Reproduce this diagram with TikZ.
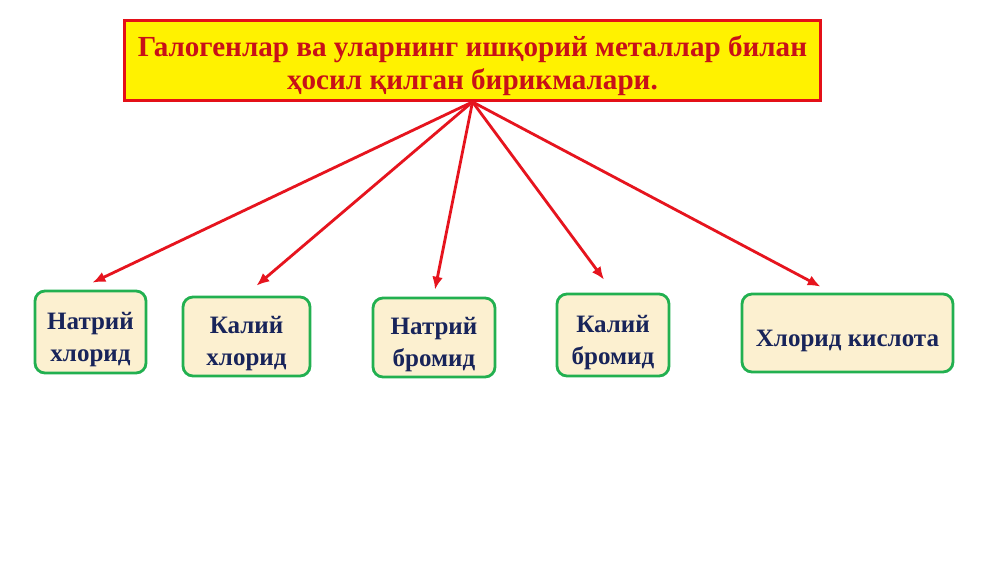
\documentclass[tikz,border=0pt]{standalone}
\usepackage{fontspec}
\setmainfont{Liberation Serif}
\usetikzlibrary{positioning,arrows.meta}
\definecolor{framered}{RGB}{228,16,24}
\definecolor{titletext}{RGB}{200,16,24}
\definecolor{arrowred}{RGB}{230,20,30}
\definecolor{boxgreen}{RGB}{34,176,80}
\definecolor{boxcream}{RGB}{252,240,208}
\definecolor{navytext}{RGB}{24,36,90}
\newcommand{\boxstrut}{\rule{0pt}{22.5pt}}

\begin{document}
\begin{tikzpicture}[x=0.025cm,y=-0.025cm,
  titlebox/.style={draw=framered, fill=yellow, line width=2pt, text=titletext,
    font=\bfseries\fontsize{20.7}{23.5}\selectfont, align=center,
    minimum width=17.4cm, minimum height=2cm, inner sep=0pt},
  saltbox/.style={draw=boxgreen, fill=boxcream, line width=2pt, rounded corners=0.25cm,
    text=navytext, font=\bfseries\fontsize{17.8}{22.8}\selectfont, align=center, inner sep=0pt},
  link/.style={draw=arrowred, line width=2pt, -{Latex[length=3.2mm,width=2.7mm]}}]

\useasboundingbox[fill=white] (0,0) rectangle (1000,562);

\node[titlebox] (title) at (472.5,60.5) {\rule{0pt}{22pt}Галогенлар ва уларнинг ишқорий металлар билан\\ ҳосил қилган бирикмалари.};
\coordinate (hub) at (title.south);

% salt boxes: name/x/y/width/height/text
\foreach \name/\x/\y/\w/\h/\txt in {
    nacl/90.5/332/111/82/{\boxstrut Натрий\\ хлорид},
    kcl/246.5/336.5/127/79/{\boxstrut Калий\\ хлорид},
    nabr/434/337.5/122/79/{\boxstrut Натрий\\ бромид},
    kbr/613/335/112/82/{\boxstrut Калий\\ бромид},
    hcl/847.5/333/211/78/{\boxstrut Хлорид кислота}} {
    \node[saltbox, minimum width=\w*0.025cm, minimum height=\h*0.025cm] (\name) at (\x,\y) {\txt};
}

% arrows from the title to each box
\foreach \name/\dx/\dy in {nacl/2/7, kcl/10/10, nabr/1/7, kbr/-9/13, hcl/-27/6} {
    \draw[link] (hub) -- ([xshift=\dx*0.025cm, yshift=\dy*0.025cm]\name.north);
}
\end{tikzpicture}
\end{document}
